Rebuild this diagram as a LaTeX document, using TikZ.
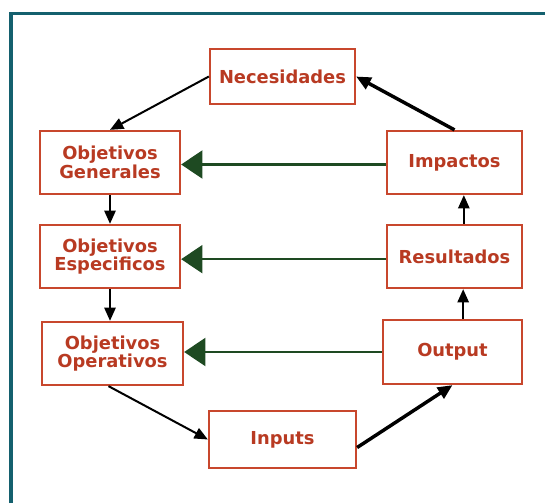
\documentclass[tikz,border=0pt]{standalone}
\usepackage{fontspec}
\setmainfont{DejaVu Sans}
\usetikzlibrary{arrows.meta}
\definecolor{boxred}{HTML}{C8472D}
\definecolor{txtred}{HTML}{B83A22}
\definecolor{frameteal}{HTML}{14606E}
\definecolor{darkgreen}{HTML}{1E4A22}
\tikzset{
  stagebox/.style={draw=boxred, line width=1.7pt, align=center, inner sep=0pt,
    font=\bfseries\fontsize{13.4}{14}\selectfont, text=txtred,
    minimum width=#1, minimum height=47.25pt},
  stagebox/.default=105pt,
  flowarrow/.style={-{Triangle[length=10pt,width=8.5pt]}, line width=1.5pt, black},
  thickarrow/.style={-{Triangle[length=11pt,width=9.5pt]}, line width=2.6pt, black},
  greenarrow/.style={-{Triangle[length=16pt,width=21pt]}, line width=1.7pt, darkgreen}
}
\begin{document}
\begin{tikzpicture}[x=0.75pt,y=-0.75pt]
\useasboundingbox (0,0) rectangle (545,503);
\draw[frameteal, line width=2.4pt] (11,503) -- (11,13.5) -- (545,13.5);

\node[stagebox=108.75pt, minimum height=41.25pt] (nec) at (282.5,76.5) {Necesidades};
\node[stagebox] (og) at (110,162.5) {Objetivos\\Generales};
\node[stagebox=101.25pt] (imp) at (454.5,162.5) {Impactos};
\node[stagebox] (oe) at (110,256.5) {Objetivos\\Especificos};
\node[stagebox=101.25pt] (res) at (454.5,256.5) {Resultados};
\node[stagebox=105.75pt] (oo) at (112.5,353.5) {Objetivos\\Operativos};
\node[stagebox=104.25pt, minimum height=48pt] (out) at (452.5,352) {Output};
\node[stagebox=110.25pt, minimum height=42.75pt] (inp) at (282.5,439.5) {Inputs};

\draw[flowarrow] (nec.west) -- (og.north);
\draw[thickarrow] (imp.north) -- (nec.east);
\draw[flowarrow] (og.south) -- (oe.north);
\draw[flowarrow] (oe.south) -- (oe.south |- oo.north);
\draw[flowarrow] ([xshift=-3pt]oo.south) -- (inp.west);
\draw[thickarrow] ([yshift=-6pt]inp.east) -- (out.south);
\draw[flowarrow] ([xshift=8pt]out.north) -- ([xshift=8pt]out.north |- res.south);
\draw[flowarrow] ([xshift=7pt]res.north) -- ([xshift=7pt]res.north |- imp.south);

\draw[greenarrow] ([yshift=-1.5pt]imp.west) -- ([yshift=-1.5pt]imp.west -| og.east);
\draw[greenarrow] ([yshift=-2pt]res.west) -- ([yshift=-2pt]res.west -| oe.east);
\draw[greenarrow] (out.west) -- (out.west -| oo.east);
\end{tikzpicture}
\end{document}
